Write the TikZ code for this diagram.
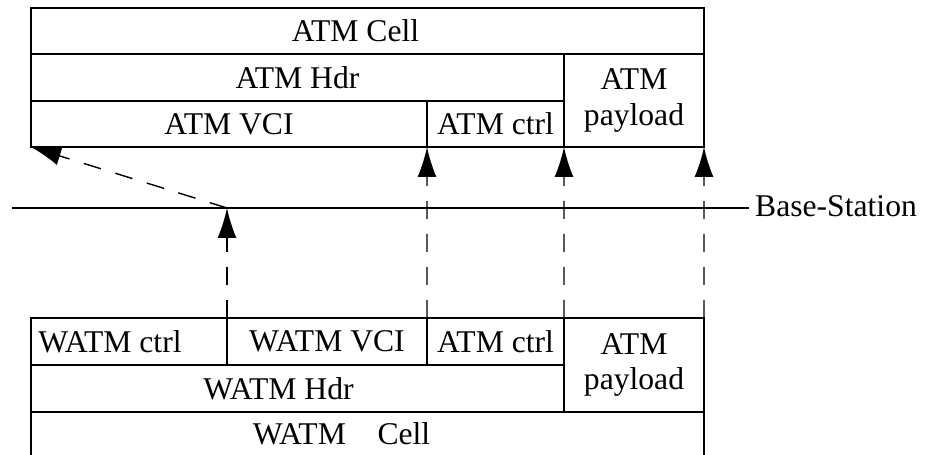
\documentclass[tikz,border=0pt]{standalone}
\usepackage{fontspec}
\setmainfont{Liberation Serif}
\usetikzlibrary{arrows.meta}

\begin{document}
\begin{tikzpicture}[
    font=\fontsize{18}{20}\selectfont,
    field/.style={rectangle, draw, line width=0.8pt, inner sep=0pt, outer sep=0pt,
      anchor=north west, align=center},
    wire/.style={line width=0.8pt},
    arr/.style={-{Latex[length=0.6cm, width=0.38cm]}, line width=0.8pt,
      dash pattern=on 0.36cm off 0.3cm}
  ]
  \useasboundingbox (0,0) rectangle (18.62,-9.10);

  % ATM cell (top)
  \node[field, minimum width=13.46cm, minimum height=0.92cm,
    label={[xshift=-0.24cm]center:ATM Cell}] (cell) at (0.62,-0.16) {};
  \node[field, minimum width=10.66cm, minimum height=0.94cm] (hdr) at (cell.south west) {ATM Hdr};
  \node[field, minimum width=2.8cm, minimum height=1.86cm] (pay) at (hdr.north east) {ATM\\payload};
  \node[field, minimum width=7.92cm, minimum height=0.92cm] (vci) at (hdr.south west) {ATM VCI};
  \node[field, minimum width=2.74cm, minimum height=0.92cm] (ctrl) at (vci.north east) {ATM ctrl};

  % Base-Station line
  \coordinate (bsl) at (0.24,-4.16);
  \node[anchor=west] (bs) at (14.98,-4.12) {Base-Station};
  \draw[wire] (bsl) -- (bsl -| bs.west);

  % WATM cell (bottom)
  \node[field, minimum width=3.92cm, minimum height=0.94cm,
    label={[xshift=-0.38cm]center:WATM ctrl}] (wctrl) at (0.62,-6.36) {};
  \node[field, minimum width=4.0cm, minimum height=0.94cm] (wvci) at (wctrl.north east) {WATM VCI};
  \node[field, minimum width=2.74cm, minimum height=0.94cm] (actrl) at (wvci.north east) {ATM ctrl};
  \node[field, minimum width=2.8cm, minimum height=1.88cm] (wpay) at (actrl.north east) {ATM\\payload};
  \node[field, minimum width=10.66cm, minimum height=0.94cm,
    label={[xshift=-0.38cm]center:WATM Hdr}] (whdr) at (wctrl.south west) {};
  \node[field, draw=none, minimum width=13.46cm, minimum height=0.86cm,
    label={[xshift=-0.52cm]center:WATM\quad Cell}] (wcell) at (whdr.south west) {};
  \draw[wire] (wcell.north west) -- (wcell.south west);
  \draw[wire] (wcell.north east) -- (wcell.south east);

  % mapping arrows
  \coordinate (hop) at (wvci.north west |- bsl);
  \draw[arr] (wvci.north west) -- (hop);
  \draw[arr] (hop) -- (vci.south west);
  \draw[arr] (actrl.north west) -- (ctrl.south west);
  \draw[arr] (wpay.north west) -- (pay.south west);
  \draw[arr] (wpay.north east) -- (pay.south east);
\end{tikzpicture}
\end{document}
